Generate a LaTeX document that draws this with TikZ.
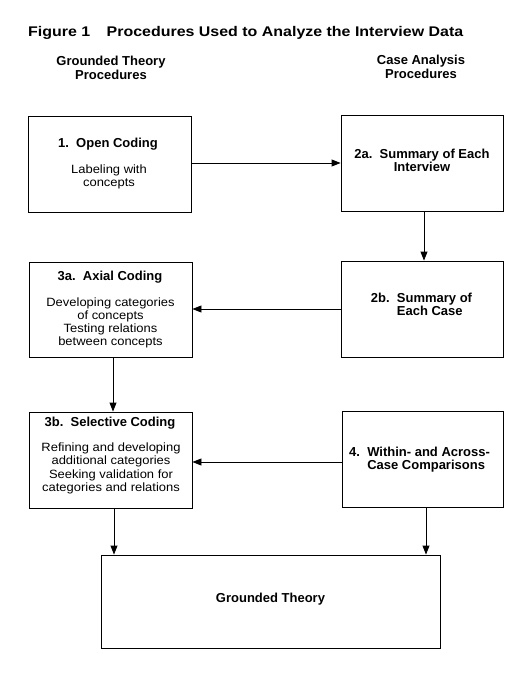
\documentclass[tikz,border=0pt]{standalone}
\usepackage{fontspec}
\setmainfont{Liberation Sans}
\newfontfamily\bodyfont{Liberation Sans}[FakeStretch=1.08]
\newfontfamily\headfont{Liberation Sans}
\newfontfamily\titlefont{Liberation Sans}[FakeStretch=1.14]
\usetikzlibrary{arrows.meta}
\newcommand\tbc[1]{\begin{tabular}[t]{@{}c@{}}#1\end{tabular}}
\newcommand\tbl[1]{\begin{tabular}[t]{@{}l@{}}#1\end{tabular}}
\tikzset{
  box/.style={draw, line width=0.9pt, inner sep=0pt, rectangle},
  arr/.style={line width=0.9pt, -{Triangle[length=9pt,width=7pt]}},
  hd/.style={anchor=base, inner sep=0pt, font=\headfont\bfseries\fontsize{13}{12.5}\selectfont},
  bd/.style={anchor=base, inner sep=0pt, font=\bodyfont\fontsize{12}{13.2}\selectfont},
}
\begin{document}
\begin{tikzpicture}[x=1pt,y=-1pt]
\useasboundingbox (0,0) rectangle (514,674);
% title
\node[hd, anchor=base west, font=\titlefont\bfseries\fontsize{14}{14}\selectfont] (title) at (28,36.5)
  {Figure 1\hspace{12pt} Procedures Used to Analyze the Interview Data};
\node[hd] (gthead) at (111,66) {\tbc{Grounded Theory\\Procedures}};
\node[hd] (cahead) at (421,65) {\tbc{Case Analysis\\Procedures}};
% boxes
\node[box, minimum width=163pt, minimum height=96pt] (b1) at (109.5,164) {};
\node[box, minimum width=162pt, minimum height=96pt] (b2a) at (422,163) {};
\node[box, minimum width=163pt, minimum height=95pt] (b3a) at (110.5,309.5) {};
\node[box, minimum width=162pt, minimum height=96pt] (b2b) at (422,309) {};
\node[box, minimum width=163pt, minimum height=96pt] (b3b) at (110.5,460) {};
\node[box, minimum width=161pt, minimum height=96pt] (b4) at (422.5,459) {};
\node[box, minimum width=339pt, minimum height=93pt] (gt) at (270.5,601.5) {};
% texts
\node[hd] (t1) at (108,147) {1.\ \ Open Coding};
\node[bd] (t1b) at (109,173) {\tbc{Labeling with\\concepts}};
\node[hd] (t2a) at (422,158.7) {\tbc{2a.\ \ Summary of Each\\Interview}};
\node[hd] (t3a) at (110,280) {3a.\ \ Axial Coding};
\node[bd] (t3ab) at (110.5,306) {\tbc{Developing categories\\of concepts\\Testing relations\\between concepts}};
\node[hd, anchor=base west, font=\headfont\bfseries\fontsize{13}{13.4}\selectfont] (t2b) at (370.7,302.3) {\tbl{2b.\ \ Summary of\\\phantom{2b.\ \ }Each Case}};
\node[hd] (t3b) at (110,426.7) {3b.\ \ Selective Coding};
\node[bd] (t3bb) at (111,451.7) {\tbc{Refining and developing\\additional categories\\Seeking validation for\\categories and relations}};
\node[hd, anchor=base west, font=\headfont\bfseries\fontsize{13}{12}\selectfont] (t4) at (349,456) {\tbl{4.\ \ Within- and Across-\\\phantom{4.\ \ }Case Comparisons}};
\node[hd] (tgt) at (270.5,602) {Grounded Theory};
% arrows
\draw[arr] ([yshift=1pt]b1.east) -- ([yshift=1pt]b1.east -| b2a.west);
\draw[arr] ([xshift=2pt]b2a.south) -- ([xshift=2pt]b2a.south |- b2b.north);
\draw[arr] (b2b.west) -- (b2b.west -| b3a.east);
\draw[arr] ([xshift=2.5pt]b3a.south) -- ([xshift=2.5pt]b3a.south |- b3b.north);
\draw[arr] ([yshift=-3pt]b4.west) -- ([yshift=-3pt]b4.west -| b3b.east);
\draw[arr] ([xshift=3.5pt]b3b.south) -- ([xshift=3.5pt]b3b.south |- gt.north);
\draw[arr] ([xshift=3.5pt]b4.south) -- ([xshift=3.5pt]b4.south |- gt.north);
\end{tikzpicture}
\end{document}
